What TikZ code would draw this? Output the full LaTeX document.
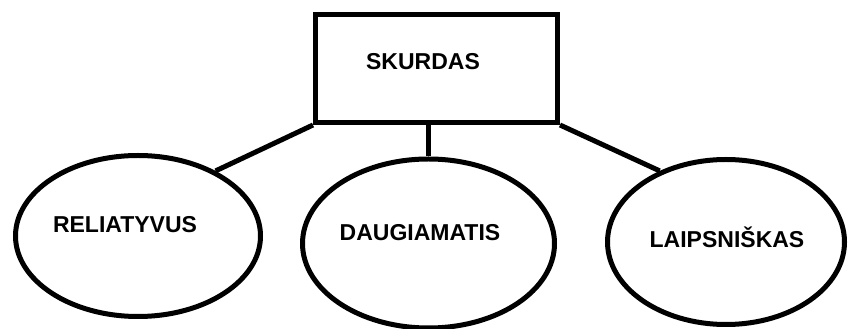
\documentclass[tikz,border=0pt]{standalone}
\usepackage{fontspec}
\setmainfont{Liberation Sans}
\usepackage{tikz}
\usetikzlibrary{shapes.geometric}

\begin{document}
\begin{tikzpicture}[x=1pt, y=1pt,
  topbox/.style={draw, line width=5pt, minimum width=242pt, minimum height=108pt, inner sep=0pt},
  kind/.style={draw, ellipse, line width=5pt, inner sep=0pt},
  word/.style={font=\fontsize{23}{27}\selectfont\bfseries, inner sep=0pt},
  link/.style={line width=5pt}]
  \useasboundingbox (0, 0) rectangle (849, 329);

  % Top box
  \node[topbox] (skurdas) at (436.5, 260.5) {};
  \node[word] (skurdasTxt) at (423, 267) {SKURDAS};

  % Three kinds of poverty
  \node[kind, minimum width=245pt, minimum height=161pt] (reliat) at (138, 93) {};
  \node[word] (reliatTxt) at (125, 104) {RELIATYVUS};

  \node[kind, minimum width=252pt, minimum height=169pt] (daug) at (428.5, 85.5) {};
  \node[word] (daugTxt) at (420, 96) {DAUGIAMATIS};

  \node[kind, minimum width=237pt, minimum height=165pt] (laips) at (726, 87) {};
  \node[word] (laipsTxt) at (727, 92) {LAIPSNIŠKAS};

  % Connectors
  \draw[link] (skurdas.south west) -- (reliat.40);
  \draw[link] (daug.north) -- (daug.north |- skurdas.south);
  \draw[link] (skurdas.south east) -- (laips.133);
\end{tikzpicture}
\end{document}
